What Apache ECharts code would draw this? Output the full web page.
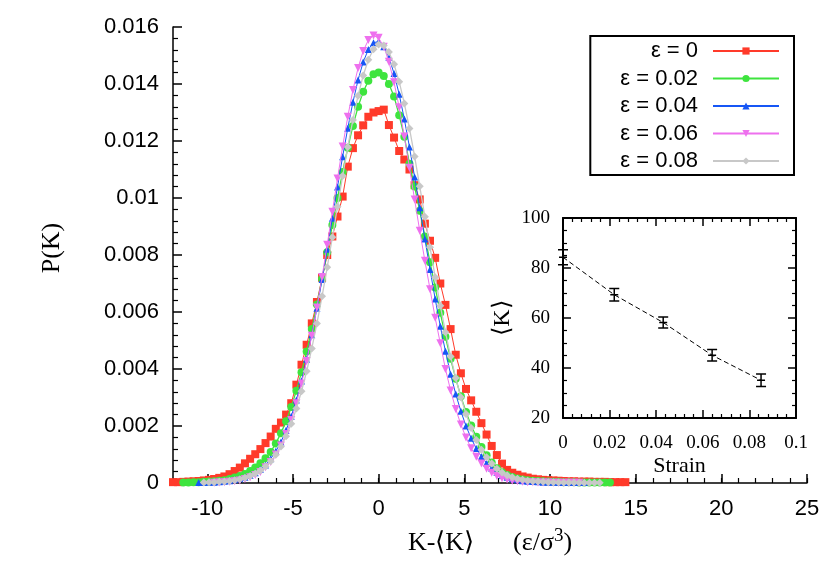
<!DOCTYPE html>
<html><head><meta charset="utf-8">
<script src="https://cdn.jsdelivr.net/npm/echarts@6/dist/echarts.min.js"></script>
<style>html,body{margin:0;padding:0;background:#fff}#c{width:830px;height:582px}</style>
</head><body><div id="c"></div>
<script>
// ---- main panel data: K-<K> grid and P(K) per strain ----
const kValues = [
  -12, -11.7, -11.4, -11.1, -10.8, -10.5, -10.2, -9.9, -9.6, -9.3,
  -9, -8.7, -8.4, -8.1, -7.8, -7.5, -7.2, -6.9, -6.6, -6.3,
  -6, -5.7, -5.4, -5.1, -4.8, -4.5, -4.2, -3.9, -3.6, -3.3,
  -3, -2.7, -2.4, -2.1, -1.8, -1.5, -1.2, -0.9, -0.6, -0.3,
  0, 0.3, 0.6, 0.9, 1.2, 1.5, 1.8, 2.1, 2.4, 2.7,
  3, 3.3, 3.6, 3.9, 4.2, 4.5, 4.8, 5.1, 5.4, 5.7,
  6, 6.3, 6.6, 6.9, 7.2, 7.5, 7.8, 8.1, 8.4, 8.7,
  9, 9.3, 9.6, 9.9, 10.2, 10.5, 10.8, 11.1, 11.4, 11.7,
  12, 12.3, 12.6, 12.9, 13.2, 13.5, 13.8, 14.1, 14.4
];
const pStrain000 = [
  0.00003, 0.00003, 0.00004, 0.00005, 0.00006, 0.00007, 0.00009, 0.00011, 0.00014, 0.00018,
  0.00023, 0.00031, 0.00042, 0.00054, 0.00069, 0.00085, 0.00101, 0.00119, 0.00140, 0.00163,
  0.00190, 0.00212, 0.00240, 0.00280, 0.00345, 0.00415, 0.00485, 0.00560, 0.00635, 0.00720,
  0.00800, 0.00865, 0.00935, 0.01005, 0.01110, 0.01175, 0.01220, 0.01255, 0.01285, 0.01300,
  0.01305, 0.01310, 0.01256, 0.01212, 0.01165, 0.01135, 0.01100, 0.01045, 0.00995, 0.00910,
  0.00850, 0.00790, 0.00700, 0.00625, 0.00540, 0.00450, 0.00385, 0.00330, 0.00290, 0.00250,
  0.00210, 0.00170, 0.00130, 0.00098, 0.00068, 0.00046, 0.00036, 0.00029, 0.00023, 0.00019,
  0.00015, 0.00013, 0.00011, 0.00010, 0.00009, 0.00008, 0.00007, 0.00006, 0.00006, 0.00005,
  0.00005, 0.00005, 0.00004, 0.00004, 0.00004, 0.00003, 0.00003, 0.00003, 0.00003
];
const pStrain002 = [
  null, null, 0.00002, 0.00002, 0.00003, 0.00003, 0.00004, 0.00005, 0.00006, 0.00008,
  0.00010, 0.00014, 0.00019, 0.00025, 0.00032, 0.00042, 0.00054, 0.00069, 0.00087, 0.00109,
  0.00139, 0.00175, 0.00217, 0.00267, 0.00324, 0.00389, 0.00461, 0.00540, 0.00626, 0.00716,
  0.00810, 0.00905, 0.01000, 0.01091, 0.01176, 0.01253, 0.01320, 0.01373, 0.01411, 0.01434,
  0.01440, 0.01428, 0.01400, 0.01356, 0.01290, 0.01215, 0.01120, 0.01040, 0.00955, 0.00865,
  0.00775, 0.00686, 0.00597, 0.00513, 0.00436, 0.00366, 0.00304, 0.00249, 0.00202, 0.00162,
  0.00126, 0.00097, 0.00072, 0.00052, 0.00038, 0.00028, 0.00021, 0.00016, 0.00012, 0.00010,
  0.00008, 0.00007, 0.00006, 0.00005, 0.00004, 0.00004, 0.00003, 0.00003, 0.00003, 0.00002,
  0.00002, 0.00002, 0.00002, 0.00002, 0.00002, 0.00002, null, null, null
];
const pStrain004 = [
  null, null, null, null, null, 0.00002, 0.00002, 0.00003, 0.00003, 0.00004,
  0.00006, 0.00008, 0.00011, 0.00015, 0.00020, 0.00027, 0.00036, 0.00048, 0.00063, 0.00085,
  0.00111, 0.00144, 0.00185, 0.00234, 0.00291, 0.00358, 0.00434, 0.00520, 0.00613, 0.00714,
  0.00820, 0.00929, 0.01039, 0.01145, 0.01245, 0.01336, 0.01414, 0.01477, 0.01521, 0.01545,
  0.01549, 0.01531, 0.01494, 0.01437, 0.01364, 0.01277, 0.01179, 0.01074, 0.00966, 0.00856,
  0.00749, 0.00646, 0.00550, 0.00462, 0.00382, 0.00312, 0.00252, 0.00200, 0.00157, 0.00121,
  0.00093, 0.00070, 0.00052, 0.00038, 0.00027, 0.00020, 0.00015, 0.00011, 0.00008, 0.00006,
  0.00005, 0.00004, 0.00003, 0.00003, 0.00003, 0.00002, 0.00002, 0.00002, 0.00002, 0.00002,
  0.00002, null, null, null, null, null, null, null, null
];
const pStrain006 = [
  null, null, null, null, null, null, null, null, 0.00001, 0.00002,
  0.00003, 0.00004, 0.00006, 0.00009, 0.00014, 0.00020, 0.00028, 0.00039, 0.00055, 0.00074,
  0.00100, 0.00132, 0.00172, 0.00221, 0.00280, 0.00349, 0.00428, 0.00517, 0.00616, 0.00723,
  0.00836, 0.00952, 0.01068, 0.01181, 0.01285, 0.01379, 0.01456, 0.01516, 0.01554, 0.01570,
  0.01562, 0.01531, 0.01478, 0.01406, 0.01318, 0.01216, 0.01106, 0.00995, 0.00885, 0.00780,
  0.00680, 0.00580, 0.00490, 0.00400, 0.00325, 0.00260, 0.00205, 0.00160, 0.00122, 0.00092,
  0.00068, 0.00050, 0.00036, 0.00025, 0.00017, 0.00012, 0.00008, 0.00006, 0.00004, 0.00003,
  0.00003, 0.00002, 0.00002, 0.00002, 0.00001, 0.00001, 0.00001, 0.00001, 0.00001, 0.00001,
  null, null, null, null, null, null, null, null, null
];
const pStrain008 = [
  null, null, null, null, null, null, 0.00002, 0.00003, 0.00003, 0.00004,
  0.00005, 0.00007, 0.00010, 0.00013, 0.00018, 0.00025, 0.00033, 0.00044, 0.00058, 0.00076,
  0.00099, 0.00128, 0.00164, 0.00208, 0.00261, 0.00322, 0.00392, 0.00472, 0.00560, 0.00655,
  0.00757, 0.00862, 0.00970, 0.01077, 0.01179, 0.01274, 0.01359, 0.01430, 0.01485, 0.01522,
  0.01539, 0.01535, 0.01512, 0.01469, 0.01408, 0.01332, 0.01244, 0.01146, 0.01041, 0.00934,
  0.00827, 0.00722, 0.00622, 0.00529, 0.00444, 0.00368, 0.00301, 0.00242, 0.00193, 0.00151,
  0.00117, 0.00090, 0.00068, 0.00050, 0.00037, 0.00027, 0.00020, 0.00015, 0.00011, 0.00008,
  0.00006, 0.00005, 0.00004, 0.00003, 0.00003, 0.00002, 0.00002, 0.00002, 0.00002, 0.00001,
  0.00001, 0.00001, 0.00001, 0.00001, null, null, null, null, null
];
const seriesNames = ['ε = 0', 'ε = 0.02', 'ε = 0.04', 'ε = 0.06', 'ε = 0.08'];
const xMajorTicks = [-10, -5, 0, 5, 10, 15, 20, 25];

// ---- inset data ----
const strainValues = [0, 0.022, 0.043, 0.064, 0.085];
const meanK = [84.3, 69.3, 58.2, 45.1, 35.1];
const meanKErr = [3.0, 2.5, 2.2, 2.3, 2.5];

const allP = [pStrain000, pStrain002, pStrain004, pStrain006, pStrain008];
const looks = [
  {color: '#ff3a2a', symbol: 'rect', size: 8, rot: 0, lw: 1},
  {color: '#3ee43e', symbol: 'circle', size: 8, rot: 0, lw: 1.3},
  {color: '#1656f5', symbol: 'triangle', size: 7, rot: 0, lw: 1},
  {color: '#ee70ee', symbol: 'triangle', size: 8, rot: 180, lw: 1},
  {color: '#c8c8c8', symbol: 'diamond', size: 8, rot: 0, lw: 1.3}
];

const chart = echarts.init(document.getElementById('c'), null, {renderer: 'canvas'});
const sans = 'Liberation Sans';
const serif = 'Liberation Serif';

const mainSeries = allP.map((arr, i) => ({
  name: seriesNames[i],
  type: 'line',
  xAxisIndex: 0, yAxisIndex: 0,
  data: kValues.map((k, j) => [k, arr[j]]).filter(p => p[1] !== null),
  symbol: looks[i].symbol,
  symbolSize: looks[i].size,
  symbolRotate: looks[i].rot,
  showAllSymbol: true,
  lineStyle: {color: looks[i].color, width: looks[i].lw},
  itemStyle: {color: looks[i].color},
  z: 2 + i
}));

const insetGrid = {left: 563, top: 218, width: 233, height: 200};
const mainGrid = {left: 173, top: 27, width: 634, height: 456};

const option = {
  animation: false,
  backgroundColor: '#fff',
  grid: [
    Object.assign({}, mainGrid),
    Object.assign({}, mainGrid),
    Object.assign({}, insetGrid)
  ],
  legend: {
    orient: 'vertical', right: 36, top: 36, align: 'right',
    itemWidth: 66, itemHeight: 9, itemGap: 5.5,
    borderColor: '#000', borderWidth: 2, borderRadius: 0,
    padding: [4, 14, 3, 30],
    backgroundColor: '#fff',
    textStyle: {fontFamily: sans, fontSize: 22, color: '#000', padding: [0, 10, 0, 0]},
    data: seriesNames
  },
  xAxis: [
    {
      type: 'value', gridIndex: 0, min: -12, max: 25, position: 'bottom',
      axisLine: {show: true, onZero: false, lineStyle: {color: '#000', width: 1.5}},
      axisTick: {show: true, inside: true, length: 9, lineStyle: {color: '#000', width: 1.5}, customValues: xMajorTicks},
      axisLabel: {fontFamily: sans, fontSize: 22, color: '#000', margin: 15, customValues: xMajorTicks},
      splitLine: {show: false},
      name: '{t|K-⟨K⟩      (ε/σ}{s|3}{t|)}',
      nameLocation: 'middle', nameGap: 44,
      nameTextStyle: {rich: {
        t: {fontFamily: serif, fontSize: 26, color: '#000'},
        s: {fontFamily: serif, fontSize: 19, color: '#000', padding: [0, 0, 14, 0]}
      }}
    },
    {
      type: 'value', gridIndex: 1, min: -12, max: 25, interval: 1, position: 'bottom',
      axisLine: {show: false},
      axisTick: {show: true, inside: true, length: 5, lineStyle: {color: '#000', width: 1.2}},
      axisLabel: {show: false}, splitLine: {show: false}
    },
    {
      type: 'value', gridIndex: 2, min: 0, max: 0.1, interval: 0.02, position: 'bottom',
      axisLine: {show: true, onZero: false, lineStyle: {color: '#000', width: 2}},
      axisTick: {show: true, inside: true, length: 8, lineStyle: {color: '#000', width: 1.5}},
      minorTick: {show: true, splitNumber: 5, length: 4, lineStyle: {color: '#000', width: 1.2}},
      axisLabel: {fontFamily: serif, fontSize: 19, color: '#000', margin: 16},
      splitLine: {show: false},
      name: 'Strain', nameLocation: 'middle', nameGap: 37,
      nameTextStyle: {fontFamily: serif, fontSize: 22, color: '#000'}
    },
    {
      type: 'value', gridIndex: 2, min: 0, max: 0.1, interval: 0.02, position: 'top',
      axisLine: {show: true, onZero: false, lineStyle: {color: '#000', width: 2}},
      axisTick: {show: true, inside: true, length: 8, lineStyle: {color: '#000', width: 1.5}},
      minorTick: {show: true, splitNumber: 5, length: 4, lineStyle: {color: '#000', width: 1.2}},
      axisLabel: {show: false}, splitLine: {show: false}
    }
  ],
  yAxis: [
    {
      type: 'value', gridIndex: 0, min: 0, max: 0.016, interval: 0.002,
      axisLine: {show: true, onZero: false, lineStyle: {color: '#000', width: 1.5}},
      axisTick: {show: true, inside: true, length: 9, lineStyle: {color: '#000', width: 1.5}},
      minorTick: {show: true, splitNumber: 5, length: 5, lineStyle: {color: '#000', width: 1.2}},
      axisLabel: {fontFamily: sans, fontSize: 22, color: '#000', margin: 14},
      splitLine: {show: false},
      name: 'P(K)', nameLocation: 'middle', nameGap: 108,
      nameTextStyle: {fontFamily: serif, fontSize: 26, color: '#000', padding: [0, 0, 0, 14]}
    },
    {type: 'value', gridIndex: 1, min: 0, max: 1, show: false},
    {
      type: 'value', gridIndex: 2, min: 20, max: 100, interval: 20, position: 'left',
      axisLine: {show: true, onZero: false, lineStyle: {color: '#000', width: 2}},
      axisTick: {show: true, inside: true, length: 8, lineStyle: {color: '#000', width: 1.5}},
      minorTick: {show: true, splitNumber: 4, length: 4, lineStyle: {color: '#000', width: 1.2}},
      axisLabel: {fontFamily: serif, fontSize: 19, color: '#000', margin: 13},
      splitLine: {show: false},
      name: '⟨K⟩', nameLocation: 'middle', nameGap: 48,
      nameTextStyle: {fontFamily: serif, fontSize: 24, color: '#000'}
    },
    {
      type: 'value', gridIndex: 2, min: 20, max: 100, interval: 20, position: 'right',
      axisLine: {show: true, onZero: false, lineStyle: {color: '#000', width: 2}},
      axisTick: {show: true, inside: true, length: 8, lineStyle: {color: '#000', width: 1.5}},
      minorTick: {show: true, splitNumber: 4, length: 4, lineStyle: {color: '#000', width: 1.2}},
      axisLabel: {show: false}, splitLine: {show: false}
    }
  ],
  series: mainSeries.concat([
    {
      type: 'line', xAxisIndex: 2, yAxisIndex: 2,
      data: strainValues.map((s, i) => [s, meanK[i]]),
      symbol: 'none',
      lineStyle: {color: '#000', width: 1, type: [5, 3]},
      clip: false, z: 10
    },
    {
      type: 'custom', xAxisIndex: 2, yAxisIndex: 2,
      data: strainValues.map((s, i) => [s, meanK[i], meanKErr[i]]),
      clip: false, z: 11,
      renderItem: function (params, api) {
        const x = api.value(0), y = api.value(1), e = api.value(2);
        const top = api.coord([x, y + e]);
        const bot = api.coord([x, y - e]);
        const mid = api.coord([x, y]);
        const st = {stroke: '#000', lineWidth: 1.5};
        const hw = 5, cw = 4;
        return {type: 'group', children: [
          {type: 'line', shape: {x1: top[0], y1: top[1], x2: bot[0], y2: bot[1]}, style: st},
          {type: 'line', shape: {x1: top[0] - hw, y1: top[1], x2: top[0] + hw, y2: top[1]}, style: st},
          {type: 'line', shape: {x1: bot[0] - hw, y1: bot[1], x2: bot[0] + hw, y2: bot[1]}, style: st},
          {type: 'line', shape: {x1: mid[0] - cw, y1: mid[1], x2: mid[0] + cw, y2: mid[1]}, style: st}
        ]};
      }
    }
  ])
};
chart.setOption(option);
</script></body></html>
